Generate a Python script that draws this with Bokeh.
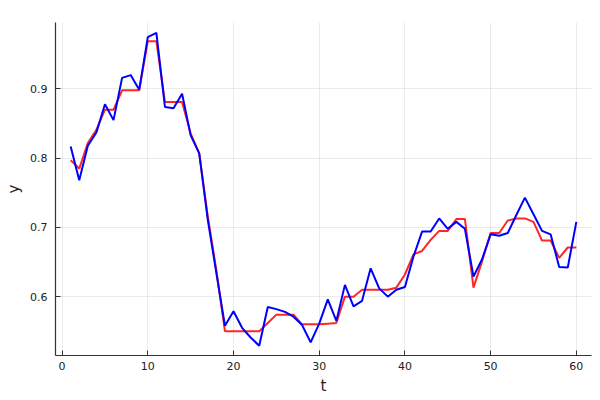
from bokeh.plotting import figure
from bokeh.models import Range1d, FixedTicker
from bokeh.embed import file_html
from bokeh.resources import INLINE

t = [1, 2, 3, 4, 5, 6, 7, 8, 9, 10, 11, 12, 13, 14, 15, 16, 17, 18, 19, 20,
     21, 22, 23, 24, 25, 26, 27, 28, 29, 30, 31, 32, 33, 34, 35, 36, 37, 38, 39, 40,
     41, 42, 43, 44, 45, 46, 47, 48, 49, 50, 51, 52, 53, 54, 55, 56, 57, 58, 59, 60]

y_blue = [0.817, 0.768, 0.818, 0.837, 0.878, 0.855, 0.916, 0.920, 0.899, 0.975,
          0.981, 0.874, 0.872, 0.893, 0.833, 0.807, 0.711, 0.634, 0.558, 0.579,
          0.555, 0.541, 0.529, 0.585, 0.582, 0.578, 0.571, 0.559, 0.534, 0.561,
          0.596, 0.565, 0.617, 0.586, 0.594, 0.641, 0.612, 0.600, 0.610, 0.614,
          0.658, 0.694, 0.694, 0.713, 0.698, 0.708, 0.698, 0.629, 0.654, 0.690,
          0.688, 0.692, 0.718, 0.743, 0.719, 0.695, 0.690, 0.643, 0.642, 0.708]

y_red = [0.797, 0.785, 0.822, 0.841, 0.870, 0.870, 0.898, 0.898, 0.898, 0.969,
         0.969, 0.881, 0.881, 0.881, 0.836, 0.807, 0.716, 0.638, 0.550, 0.550,
         0.550, 0.550, 0.550, 0.562, 0.574, 0.574, 0.574, 0.560, 0.560, 0.560,
         0.561, 0.562, 0.600, 0.600, 0.610, 0.610, 0.610, 0.610, 0.613, 0.632,
         0.661, 0.666, 0.682, 0.695, 0.695, 0.712, 0.712, 0.613, 0.651, 0.692,
         0.692, 0.710, 0.713, 0.713, 0.708, 0.681, 0.681, 0.656, 0.671, 0.671]

x_ticks = [0, 10, 20, 30, 40, 50, 60]
y_ticks = [0.6, 0.7, 0.8, 0.9]

p = figure(width=600, height=400, output_backend="svg", toolbar_location=None,
           x_range=Range1d(-0.77, 61.77), y_range=Range1d(0.515, 0.996),
           min_border_left=55, min_border_right=9, min_border_top=22, min_border_bottom=45)
p.outline_line_color = None
p.background_fill_color = "white"
p.border_fill_color = "white"

p.line(t, y_red, line_color="red", line_alpha=0.85, line_width=2)
p.line(t, y_blue, line_color="blue", line_width=2)

for ax in (p.xaxis[0], p.yaxis[0]):
    ax.major_tick_in = 5
    ax.major_tick_out = 0
    ax.minor_tick_in = 0
    ax.minor_tick_out = 0
    ax.axis_line_color = "#333333"
    ax.axis_line_width = 1.2
    ax.major_tick_line_color = "#333333"
    ax.major_label_text_font = "DejaVu Sans"
    ax.major_label_text_font_size = "11px"
    ax.major_label_text_color = "#222222"
    ax.axis_label_text_font = "DejaVu Sans"
    ax.axis_label_text_font_size = "15px"
    ax.axis_label_text_font_style = "normal"
    ax.axis_label_text_color = "#222222"

p.xaxis.ticker = FixedTicker(ticks=x_ticks)
p.yaxis.ticker = FixedTicker(ticks=y_ticks)
p.xaxis.axis_label = "t"
p.yaxis.axis_label = "y"
p.xaxis.major_label_standoff = 6
p.xaxis.axis_label_standoff = 4
p.yaxis.major_label_standoff = 8
p.yaxis.axis_label_standoff = 4

p.xgrid.ticker = FixedTicker(ticks=x_ticks)
p.ygrid.ticker = FixedTicker(ticks=y_ticks)
for g in (p.xgrid[0], p.ygrid[0]):
    g.grid_line_color = "black"
    g.grid_line_alpha = 0.08
    g.grid_line_width = 1

open("out.html", "w").write(file_html(p, INLINE))
